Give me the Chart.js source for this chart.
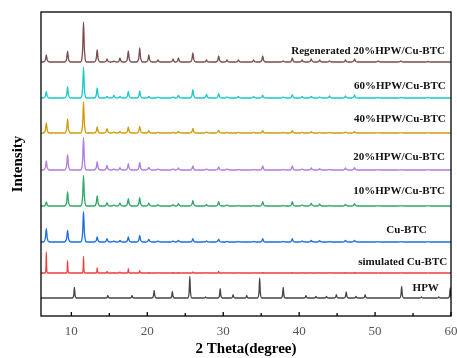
<!DOCTYPE html>
<html>
<head>
<meta charset="utf-8">
<script src="https://cdn.jsdelivr.net/npm/chart.js@4/dist/chart.umd.min.js"></script>
<style>
  html, body { margin: 0; padding: 0; background: #fff; }
  #wrap { width: 457px; height: 358px; }
</style>
</head>
<body>
<div id="wrap"><canvas id="xrd"></canvas></div>
<script>
// peak positions (2 theta) shared by the Cu-BTC type patterns
const mofPeaks = [6.7, 9.5, 11.6, 13.4, 14.7, 15.6, 16.4, 17.5, 19.0, 20.2, 21.4, 23.4, 24.1, 26.0, 27.8, 29.4, 30.5, 32.0, 34.0, 35.2, 37.9, 39.1, 40.4, 41.6, 42.7, 44.0, 46.1, 47.3, 50.4, 53.4, 57.0];

const regenH  = [7, 10.7, 40, 12, 3, 1, 4, 11, 14, 7, 2, 3, 4, 9, 2, 6, 2, 2, 2, 6, 1, 4, 2, 3, 2, 1, 2, 3, 1, 1, 0.5];
const hpw60H  = [6.7, 11, 31, 10, 1.7, 2.7, 1.7, 6.7, 7, 1.7, 1, 1, 2.7, 8.3, 3.7, 4.3, 1, 1.5, 1.5, 2.7, 1, 3.3, 1.5, 1.7, 1, 2, 2, 3, 0.5, 0.5, 0.5];
const hpw40H  = [10, 14, 31, 6, 4.3, 1, 1.7, 6, 6.7, 2.3, 0.7, 0.7, 1.5, 4.7, 1, 2.7, 0.7, 0.7, 0.7, 2.3, 0.5, 2.3, 0.7, 1.3, 0.7, 0.5, 1, 1.3, 0.3, 0.3, 0.3];
const hpw20H  = [9, 15.7, 32.7, 8.3, 4.7, 1, 2.3, 6.3, 7.7, 2.7, 1, 1, 2, 4, 1, 3, 1, 0.5, 0.5, 4, 0.5, 4, 1, 2, 1.3, 0.5, 2, 2.3, 0.3, 0.3, 0.3];
const hpw10H  = [4, 14, 30.7, 10, 3.3, 1, 3, 7.3, 8.3, 3, 1.3, 1.3, 2.3, 5.7, 1.3, 4.3, 1, 0.5, 0.5, 4.3, 0.5, 4.3, 1, 2.7, 2, 0.5, 1.7, 2.3, 0.3, 0.3, 0.3];
const cubtcH  = [13.3, 11.7, 30.7, 5, 3.3, 1, 1.7, 5, 6.7, 2.7, 1, 1, 1.7, 3.3, 1, 2.7, 0.7, 0.5, 0.5, 3.3, 0.5, 3.3, 1, 1.7, 1.3, 0.5, 1.7, 1.7, 0.3, 0.3, 0.3];
const simH    = [21, 12.3, 16.7, 5, 1.7, 0.5, 1, 4.3, 2.3, 0.5, 0.3, 0.5, 0.5, 1, 0.3, 1.7, 0.3, 0.3, 0.3, 0.5, 0.3, 0.5, 0.3, 0.3, 0.3, 0.3, 0.5, 0.5, 0.2, 0.2, 0.2];

const hpwPeaks = [10.4, 14.8, 18.0, 20.9, 23.3, 25.6, 27.7, 29.6, 31.3, 33.1, 34.8, 37.9, 40.9, 42.2, 43.6, 44.9, 46.2, 47.5, 48.7, 53.5, 56.1, 58.4, 59.9];
const hpwH     = [10.7, 2.3, 2.3, 7.7, 6.7, 21.7, 1, 9.3, 3.3, 2.3, 20, 10.7, 2.3, 1.7, 1.5, 3.3, 6, 1.7, 3.3, 11.7, 1, 1, 10];

// stacking offsets (a.u.)
const offsets = [254, 218, 183, 146, 110, 74, 43, 18];
const names = ['Regenerated 20%HPW/Cu-BTC', '60%HPW/Cu-BTC', '40%HPW/Cu-BTC', '20%HPW/Cu-BTC', '10%HPW/Cu-BTC', 'Cu-BTC', 'simulated Cu-BTC', 'HPW'];
const colors = ['#7d4c4c', '#1cc8c8', '#d19c0a', '#b27be0', '#2fa866', '#1c6ee0', '#f03c3c', '#444444'];

// label anchors: right end (2 theta) and height
const labelX = [59.2, 59.3, 59.3, 59.2, 59.2, 56.8, 59.5, 58.4];
const labelY = [265, 230, 197, 159, 125, 86, 54, 28];

const xTicks = [10, 20, 30, 40, 50, 60];
const xMinor = [15, 25, 35, 45, 55];

// turn a peak list into a line: foot, shoulder, apex, shoulder, foot
function pattern(pos, h, base, w) {
  let pts = [{x: 6, y: base}, {x: 60, y: base}];
  pos.forEach((p, i) => {
    pts.push({x: p - w, y: base});
    pts.push({x: p - w * 0.3, y: base + h[i] * 0.3});
    pts.push({x: p, y: base + h[i]});
    pts.push({x: p + w * 0.3, y: base + h[i] * 0.3});
    pts.push({x: p + w, y: base});
  });
  return pts.sort((a, b) => a.x - b.x);
}

const series = [
  pattern(mofPeaks, regenH, offsets[0], 0.4),
  pattern(mofPeaks, hpw60H, offsets[1], 0.4),
  pattern(mofPeaks, hpw40H, offsets[2], 0.4),
  pattern(mofPeaks, hpw20H, offsets[3], 0.4),
  pattern(mofPeaks, hpw10H, offsets[4], 0.4),
  pattern(mofPeaks, cubtcH, offsets[5], 0.4),
  pattern(mofPeaks, simH, offsets[6], 0.14),
  pattern(hpwPeaks, hpwH, offsets[7], 0.28)
];

const frame = {
  id: 'frame',
  afterDraw(chart) {
    const c = chart.ctx, a = chart.chartArea, xs = chart.scales.x, ys = chart.scales.y;
    c.save();
    c.strokeStyle = '#000';
    c.lineWidth = 1.3;
    c.strokeRect(a.left, a.top, a.right - a.left, a.bottom - a.top);
    c.beginPath();
    xTicks.forEach(v => { const px = xs.getPixelForValue(v); c.moveTo(px, a.bottom); c.lineTo(px, a.bottom - 4); });
    xMinor.forEach(v => { const px = xs.getPixelForValue(v); c.moveTo(px, a.bottom); c.lineTo(px, a.bottom - 3); });
    c.stroke();
    c.fillStyle = '#111';
    c.font = 'bold 11px "Liberation Serif", "Times New Roman", serif';
    c.textAlign = 'right';
    c.textBaseline = 'middle';
    names.forEach((n, i) => {
      c.fillText(n, xs.getPixelForValue(labelX[i]), ys.getPixelForValue(labelY[i]));
    });
    c.restore();
  }
};

new Chart(document.getElementById('xrd'), {
  type: 'line',
  data: {
    datasets: series.map((d, i) => ({
      label: names[i],
      data: d,
      borderColor: colors[i],
      borderWidth: 1.3,
      pointRadius: 0,
      cubicInterpolationMode: 'monotone',
      fill: false
    }))
  },
  options: {
    responsive: true,
    maintainAspectRatio: false,
    animation: false,
    events: [],
    layout: { padding: { left: 0, right: 6, top: 12, bottom: 0 } },
    plugins: { legend: { display: false }, tooltip: { enabled: false } },
    scales: {
      x: {
        type: 'linear',
        min: 6,
        max: 60,
        grid: { display: false, drawTicks: false },
        border: { display: false },
        afterBuildTicks: s => { s.ticks = xTicks.map(v => ({value: v})); },
        afterFit: s => { s.height = 42; s.paddingLeft = 0; s.paddingRight = 0; },
        ticks: { color: '#555', padding: 8, font: { family: '"Liberation Serif", serif', size: 13 } },
        title: {
          display: true,
          text: '2 Theta(degree)',
          color: '#000',
          padding: 0,
          font: { family: '"Liberation Serif", serif', size: 15, weight: 'bold' }
        }
      },
      y: {
        display: true,
        min: 0,
        max: 304,
        grid: { display: false, drawTicks: false },
        border: { display: false },
        ticks: { display: false },
        afterFit: s => { s.width = 41; },
        title: {
          display: true,
          text: 'Intensity',
          color: '#000',
          padding: { top: 9, bottom: 0 },
          font: { family: '"Liberation Serif", serif', size: 15, weight: 'bold' }
        }
      }
    }
  },
  plugins: [frame]
});
</script>
</body>
</html>
